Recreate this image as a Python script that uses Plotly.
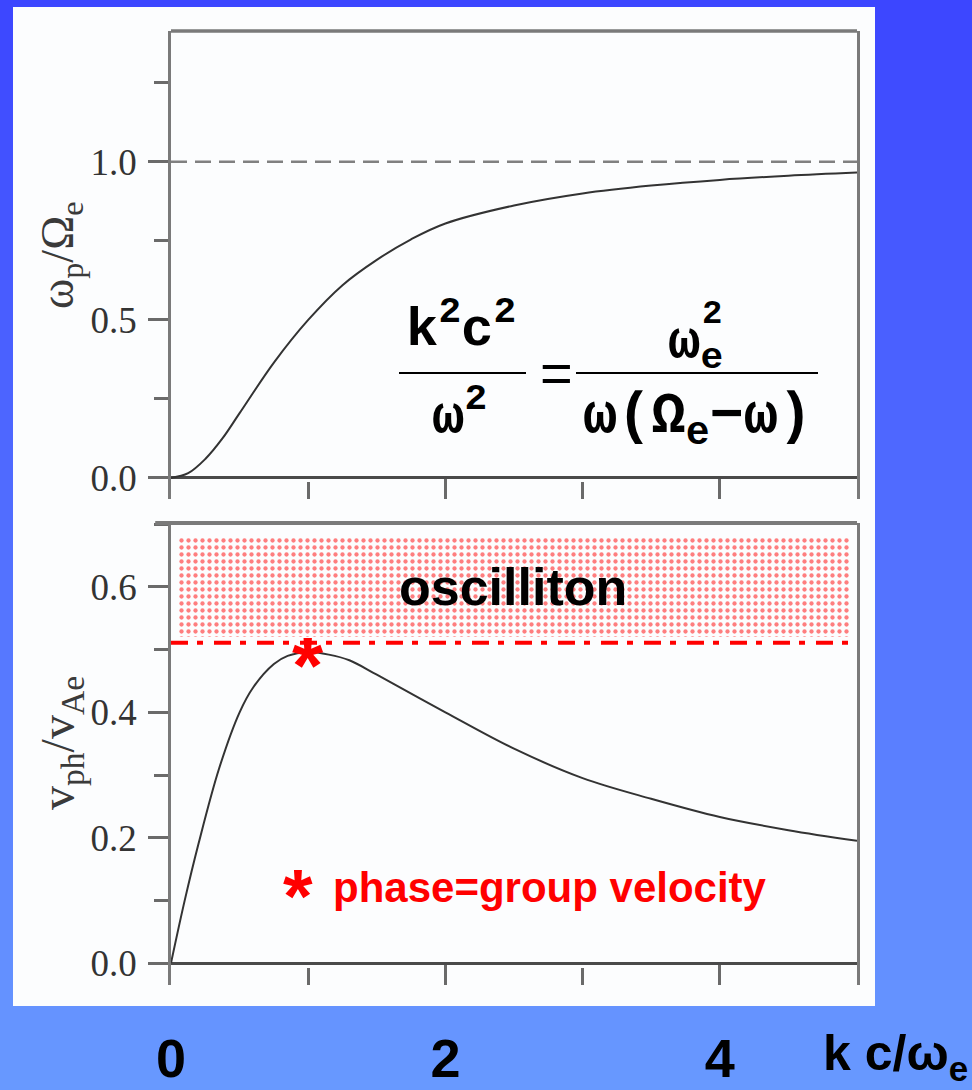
import plotly.graph_objects as go

# ---------------- data ----------------
k_top = [0, 0.125, 0.25, 0.375, 0.5, 0.75, 1, 1.25, 1.5, 1.75, 2, 2.5, 3, 3.5, 4, 4.5, 5]
omega_top = [0, 0.015, 0.06, 0.125, 0.205, 0.365, 0.5, 0.61, 0.69, 0.755, 0.805, 0.862, 0.9, 0.925, 0.943, 0.956, 0.966]

k_bot = [0, 0.1, 0.2, 0.35, 0.5, 0.6, 0.75, 0.85, 1, 1.15, 1.3, 1.5, 2, 2.5, 3, 3.5, 4, 4.5, 5]
vph_bot = [0, 0.1, 0.19, 0.31, 0.4, 0.44, 0.477, 0.49, 0.496, 0.492, 0.483, 0.46, 0.4, 0.342, 0.295, 0.262, 0.233, 0.212, 0.195]

limit_x = [0, 5]
limit_top = [1.0, 1.0]            # dashed asymptote omega = Omega_e

thresh_x = [0, 4.95]
thresh_v = [0.511, 0.511]         # dash-dot oscilliton threshold

band_x = [0.05, 4.95]             # dotted "oscilliton" region
band_v = [0.52, 0.68]

star_k = [1.0]                    # phase = group velocity point
star_v = [0.494]

x_tickvals = [0, 2, 4]
x_ticktext = ["0", "2", "4"]
top_tickvals = [0, 0.5, 1.0]
top_ticktext = ["0.0", "0.5", "1.0"]
bot_tickvals = [0, 0.2, 0.4, 0.6]
bot_ticktext = ["0.0", "0.2", "0.4", "0.6"]

# ---------------- figure ----------------
W, H = 972, 1090


def px(x):
    return x / W


def py(y):
    return 1 - y / H


fig = go.Figure()

curve_col = "#333333"
axis_col = "#7a7a7a"

fig.add_trace(go.Scatter(x=limit_x, y=limit_top, mode="lines",
                         line=dict(color="#808080", width=2.5, dash="16px,8px"),
                         xaxis="x", yaxis="y", hoverinfo="skip"))
fig.add_trace(go.Scatter(x=k_top, y=omega_top, mode="lines", line_shape="spline",
                         line=dict(color=curve_col, width=2), xaxis="x", yaxis="y"))

# dotted oscilliton band
bx = [band_x[0], band_x[1], band_x[1], band_x[0], band_x[0]]
bv = [band_v[0], band_v[0], band_v[1], band_v[1], band_v[0]]
fig.add_trace(go.Scatter(x=bx, y=bv, mode="lines", fill="toself",
                         line=dict(width=0, color="rgba(0,0,0,0)"),
                         fillcolor="rgba(0,0,0,0)",
                         fillpattern=dict(shape=".", fgcolor="#ff0000", bgcolor="rgba(255,255,255,0)",
                                          size=7, solidity=0.3),
                         xaxis="x2", yaxis="y2", hoverinfo="skip"))
fig.add_trace(go.Scatter(x=thresh_x, y=thresh_v, mode="lines",
                         line=dict(color="#ff0000", width=4, dash="17px,9px,6px,11px"),
                         xaxis="x2", yaxis="y2", hoverinfo="skip"))
fig.add_trace(go.Scatter(x=k_bot, y=vph_bot, mode="lines", line_shape="spline",
                         line=dict(color=curve_col, width=2), xaxis="x2", yaxis="y2"))

# ---------------- axes ----------------
x_dom = [px(171), px(857)]
top_dom = [py(498.5), py(31)]
bot_dom = [py(985), py(523)]

tickfont = dict(family="Liberation Serif", size=37, color="#333333")

common_y = dict(showline=True, linecolor=axis_col, linewidth=2.5, mirror=True,
                ticks="outside", ticklen=20, tickwidth=2.5, tickcolor="#6a6a6a",
                showgrid=False, zeroline=True, zerolinecolor="#4a4a4a", zerolinewidth=3,
                tickfont=tickfont, ticklabelstandoff=4, automargin=False)

common_x = dict(showline=False, showgrid=False, zeroline=False, range=[0, 5],
                ticks="inside", ticklen=20, tickwidth=2.5, tickcolor="#6a6a6a",
                tickvals=x_tickvals, automargin=False,
                minor=dict(dtick=1, ticks="inside", ticklen=17, tickwidth=2.5, tickcolor="#6a6a6a"))

fig.update_layout(
    width=W, height=H,
    margin=dict(l=0, r=0, t=0, b=0, pad=0, autoexpand=False),
    paper_bgcolor="rgb(60,70,255)",
    plot_bgcolor="rgba(0,0,0,0)",
    showlegend=False,
    xaxis=dict(domain=x_dom, anchor="y", showticklabels=False, **common_x),
    yaxis=dict(domain=top_dom, anchor="x", range=[-0.065, 1.414],
               tickvals=top_tickvals, ticktext=top_ticktext,
               minor=dict(dtick=0.25, ticks="outside", ticklen=14, tickwidth=2.5, tickcolor="#6a6a6a"),
               **common_y),
    xaxis2=dict(domain=x_dom, anchor="y2", showticklabels=True,
                ticktext=x_ticktext,
                tickfont=dict(family="Liberation Sans", size=54, color="#000000", weight="bold"),
                ticklabelstandoff=37, **common_x),
    yaxis2=dict(domain=bot_dom, anchor="x2", range=[-0.035, 0.702],
                tickvals=bot_tickvals, ticktext=bot_ticktext,
                minor=dict(dtick=0.1, ticks="outside", ticklen=14, tickwidth=2.5, tickcolor="#6a6a6a"),
                **common_y),
)

# ---------------- background: gradient + white panel ----------------
shapes = []
N = 109
c0 = (60, 70, 255)
c1 = (104, 153, 255)
for i in range(N):
    t = (i + 0.5) / N
    col = tuple(round(c0[j] + (c1[j] - c0[j]) * t) for j in range(3))
    shapes.append(dict(type="rect", xref="paper", yref="paper", x0=0, x1=1,
                       y0=max(0, 1 - (i + 1) / N - 0.001), y1=1 - i / N,
                       fillcolor="rgb(%d,%d,%d)" % col, line=dict(width=0), layer="below"))
shapes.append(dict(type="rect", xref="paper", yref="paper", x0=px(13), x1=px(875),
                   y0=py(1006), y1=py(7), fillcolor="#fcfdfe", line=dict(width=0), layer="below"))
# top frame lines
shapes.append(dict(type="line", xref="x domain", yref="y domain", x0=0, x1=1, y0=1, y1=1,
                   line=dict(color=axis_col, width=3.5)))
shapes.append(dict(type="line", xref="x2 domain", yref="y2 domain", x0=-0.023, x1=1, y0=1, y1=1,
                   line=dict(color=axis_col, width=4)))
# formula fraction bars
shapes.append(dict(type="line", xref="paper", yref="paper", x0=px(399), x1=px(526),
                   y0=py(373), y1=py(373), line=dict(color="#000", width=2)))
shapes.append(dict(type="line", xref="paper", yref="paper", x0=px(576), x1=px(818),
                   y0=py(373), y1=py(373), line=dict(color="#000", width=2)))
fig.update_layout(shapes=shapes)

# ---------------- annotations ----------------
mono = dict(family="Liberation Mono", size=54, color="#000000", weight="bold")
ann = []


def A(text, x, y, font, xanchor="center", yanchor="middle", **kw):
    ann.append(dict(text=text, x=x, y=y, xref="paper", yref="paper", showarrow=False,
                    xanchor=xanchor, yanchor=yanchor, font=font, **kw))


A("k<sup>2</sup>c<sup>2</sup>", px(461), py(326), mono)
A("ω<sup>2</sup>", px(459), py(413), mono)
A("=", px(556), py(372), dict(family="Liberation Sans", size=56, color="#000"))
A("ω<sub>e</sub>", px(695), py(345), mono)
A("2", px(712), py(314), dict(family="Liberation Mono", size=34, color="#000", weight="bold"))
A("ω(Ω<sub>e</sub>−ω)", px(697), py(420),
  dict(family="Liberation Mono", size=57, color="#000000", weight="bold"))

# axis titles
A("ω<sub>p</sub>/Ω<sub>e</sub>", px(61), py(255),
  dict(family="Liberation Serif", size=46, color="#3a3a3a"), textangle=-90)
A("v<sub>ph</sub>/v<sub>Ae</sub>", px(61), py(743),
  dict(family="Liberation Serif", size=48, color="#3a3a3a"), textangle=-90)

# bottom x title
A("k c/ω<sub>e</sub>", px(821), py(1056),
  dict(family="Liberation Sans", size=50, color="#000000", weight="bold"), xanchor="left")

# data-coordinate texts in the lower panel
ann.append(dict(text="oscilliton", x=2.49, y=0.60, xref="x2", yref="y2", showarrow=False,
                font=dict(family="Liberation Sans", size=52, color="#000000", weight="bold")))
ann.append(dict(text="phase=group velocity", x=2.76, y=0.12, xref="x2", yref="y2",
                showarrow=False, font=dict(family="Liberation Sans", size=42, color="#ff0000", weight="bold")))
ann.append(dict(text="*", x=(298 - 171) / 137.2, y=0.12, xref="x2", yref="y2",
                showarrow=False, yshift=-8,
                font=dict(family="Liberation Sans", size=76, color="#ff0000", weight="bold")))
ann.append(dict(text="*", x=star_k[0], y=star_v[0], xref="x2", yref="y2",
                showarrow=False, yshift=-12,
                font=dict(family="Liberation Sans", size=80, color="#ff0000", weight="bold")))
fig.update_layout(annotations=ann)

fig.write_html("out.html")
